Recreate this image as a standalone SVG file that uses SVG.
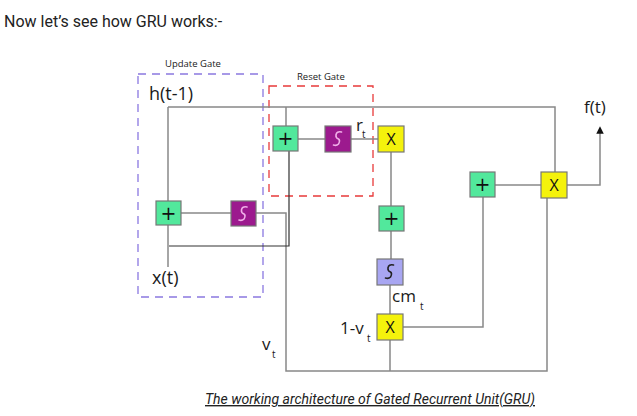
<svg xmlns="http://www.w3.org/2000/svg" width="637" height="416" viewBox="0 0 637 416">
<style>
.t{font-family:"Open Sans","Liberation Sans",sans-serif;fill:#1a1a1a}
.ln{stroke:#888;stroke-width:1.5;fill:none}
.dk{stroke:#333;stroke-width:1.2;fill:none}
.box{stroke:#777;stroke-width:1.2}
.add{fill:#52e89c}
.mul{fill:#f4f20c}
.sg1{fill:#9c1a8e}
.sg2{fill:#a8a6f2}
.sym{font-family:"Open Sans","Liberation Sans",sans-serif;font-size:16px;text-anchor:middle;fill:#111}
.plus{font-family:"DejaVu Sans","Liberation Sans",sans-serif;font-size:19px;text-anchor:middle;fill:#111}
.sq{fill:none;stroke-width:1.6;stroke-linecap:round}
</style>
<defs>
<marker id="ah" viewBox="0 0 10 10" refX="5" refY="5" markerWidth="5" markerHeight="5" orient="auto"><path d="M0,0 L10,5 L0,10 z" fill="#111"/></marker>
</defs>
<rect width="637" height="416" fill="#fff"/>
<text x="4" y="27" font-family="Roboto,'Liberation Sans',sans-serif" font-size="16" fill="#222">Now let’s see how GRU works:-</text>

<g id="update-gate">
<rect x="138" y="74" width="125" height="223" fill="none" stroke="#8a78e0" stroke-width="1.3" stroke-dasharray="8,6"/>
<text class="t" x="165" y="67" font-size="9.5">Update Gate</text>
</g>
<g id="reset-gate">
<rect x="269" y="86" width="104" height="110" fill="none" stroke="#e83a3a" stroke-width="1.3" stroke-dasharray="8,6"/>
<text class="t" x="297" y="80" font-size="9.5">Reset Gate</text>
</g>

<g id="connectors">
<path class="ln" d="M168,107 H555 V172"/>
<path class="ln" d="M168,107 V267"/>
<path class="ln" d="M181,213 H231"/>
<path class="ln" d="M256,213 H286 V371 H547 V198"/>
<path class="dk" d="M169,246 H289 V151"/>
<path class="ln" d="M286,107 V126"/>
<path class="ln" d="M298,139 H325"/>
<path class="ln" d="M351,139 H378"/>
<path class="ln" d="M391,152 V206 M391,231 V259 M390,285 V314 M390,340 V371"/>
<path class="ln" d="M402,327 H483 V197"/>
<path class="ln" d="M495,185 H541"/>
<path class="ln" d="M567,185 H600 V130" marker-end="url(#ah)"/>
</g>

<g id="add1"><rect class="box add" x="156" y="201" width="25" height="24"/><text class="plus" x="168.5" y="220">+</text></g>
<g id="sig1"><rect class="box sg1" x="231" y="201" width="25" height="25"/><path class="sq" stroke="#f0b0e8" d="M247,207 Q242,206 241.5,210 Q241,213 244,214 Q246,215.5 244,219 Q242,221 239,220"/></g>
<g id="add2"><rect class="box add" x="273" y="126" width="25" height="25"/><text class="plus" x="285.5" y="145">+</text></g>
<g id="sig2"><rect class="box sg1" x="325" y="126" width="26" height="26"/><path class="sq" stroke="#f0b0e8" d="M341.5,132 Q336.5,131 336,135 Q335.5,138 338.5,139 Q340.5,140.5 338.5,144 Q336.5,146 333.5,145"/></g>
<g id="mul1"><rect class="box mul" x="378" y="126" width="26" height="26"/><text class="sym" x="391" y="145">X</text></g>
<g id="add3"><rect class="box add" x="379" y="206" width="25" height="25"/><text class="plus" x="391.5" y="225">+</text></g>
<g id="sig3"><rect class="box sg2" x="377" y="259" width="26" height="26"/><path class="sq" stroke="#222" d="M393.5,265 Q388.5,264 388,268 Q387.5,271 390.5,272 Q392.5,273.5 390.5,277 Q388.5,279 385.5,278"/></g>
<g id="mul2"><rect class="box mul" x="377" y="314" width="26" height="26"/><text class="sym" x="390" y="333">X</text></g>
<g id="add4"><rect class="box add" x="470" y="172" width="25" height="25"/><text class="plus" x="482.5" y="191">+</text></g>
<g id="mul3"><rect class="box mul" x="541" y="172" width="26" height="26"/><text class="sym" x="554" y="191">X</text></g>

<g id="labels">
<text class="t" x="149" y="100" font-size="18">h(t-1)</text>
<text class="t" x="152" y="284" font-size="18">x(t)</text>
<text class="t" x="584" y="113" font-size="17">f(t)</text>
<text class="t" x="356" y="131" font-size="17">r</text><text class="t" x="362" y="138" font-size="10">t</text>
<text class="t" x="392" y="302" font-size="17">cm</text><text class="t" x="420" y="310" font-size="10">t</text>
<text class="t" x="340" y="334" font-size="17">1-v</text><text class="t" x="367" y="342" font-size="10">t</text>
<text class="t" x="262" y="350" font-size="17">v</text><text class="t" x="272" y="358" font-size="10">t</text>
</g>

<text x="205" y="404" font-family="Roboto,'Liberation Sans',sans-serif" font-size="14" font-style="italic" text-decoration="underline" fill="#222">The working architecture of Gated Recurrent Unit(GRU)</text>
</svg>
